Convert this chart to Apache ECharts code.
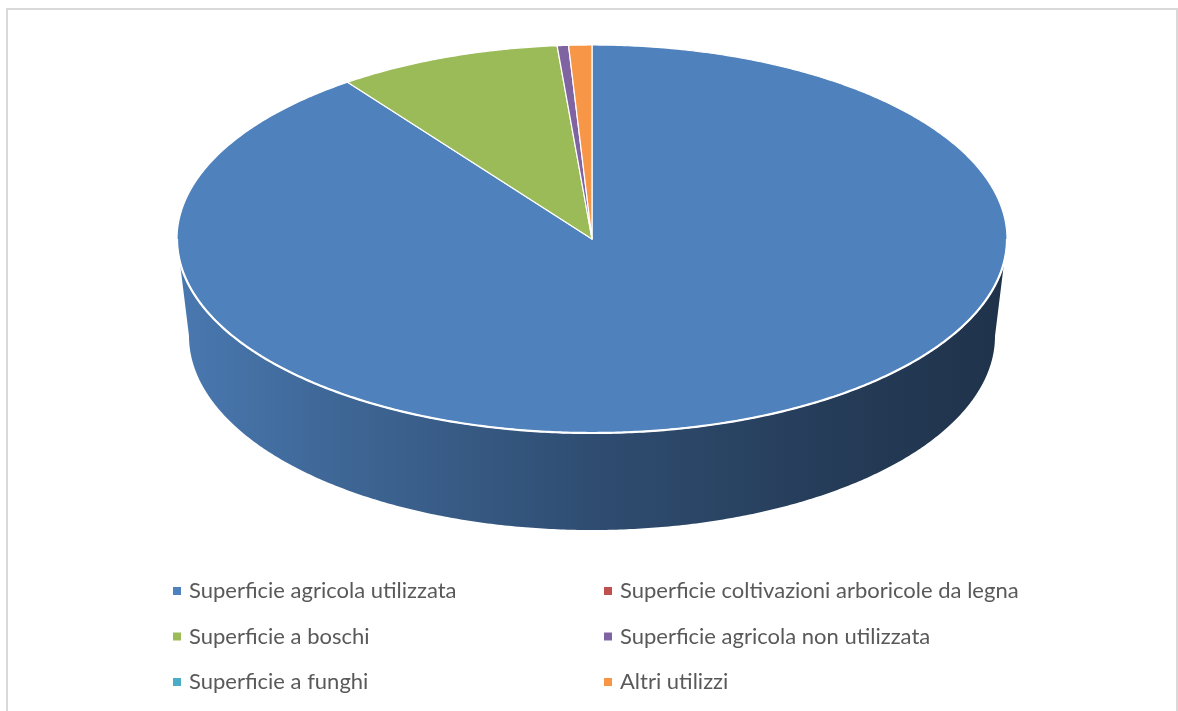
<!DOCTYPE html>
<html>
<head>
<meta charset="utf-8">
<script src="https://cdn.jsdelivr.net/npm/echarts@6/dist/echarts.min.js"></script>
<style>
html,body{margin:0;padding:0;background:#fff;}
#chart{width:1178px;height:711px;}
</style>
</head>
<body>
<div id="chart"></div>
<script>
// ---- data ----
const categories = [
  'Superficie agricola utilizzata',
  'Superficie coltivazioni arboricole da legna',
  'Superficie a boschi',
  'Superficie agricola non utilizzata',
  'Superficie a funghi',
  'Altri utilizzi'
];
const shares = [89.97, 0, 8.68, 0.44, 0, 0.90];
const palette = ['#4f81bd', '#c0504d', '#9bbb59', '#8064a2', '#4bacc6', '#f79646'];
const legendLeftColumn = [categories[0], categories[2], categories[4]];
const legendRightColumn = [categories[1], categories[3], categories[5]];

// ---- layout of the 3D pie ----
const geo = { cx: 592, cy: 239, rx: 415, ry: 194, cyB: 336, rxB: 403, ryB: 194 };
const sideShade = [[0, 0.93], [0.2, 0.79], [0.5, 0.60], [0.83, 0.45], [1, 0.39]];

function shade(hex, f) {
  const n = parseInt(hex.slice(1), 16);
  const r = Math.round(((n >> 16) & 255) * f);
  const g = Math.round(((n >> 8) & 255) * f);
  const b = Math.round((n & 255) * f);
  return 'rgb(' + r + ',' + g + ',' + b + ')';
}
function topPt(t) { return [geo.cx + geo.rx * Math.sin(t), geo.cy - geo.ry * Math.cos(t)]; }
function botPt(t) { return [geo.cx + geo.rxB * Math.sin(t), geo.cyB - geo.ryB * Math.cos(t)]; }
function arc(fn, a0, a1) {
  const pts = [];
  const n = Math.max(2, Math.ceil(Math.abs(a1 - a0) / (Math.PI / 360)));
  for (let i = 0; i <= n; i++) pts.push(fn(a0 + (a1 - a0) * i / n));
  return pts;
}

const total = shares.reduce((a, b) => a + b, 0);
const startAngles = [];
(function () { let acc = 0; shares.forEach(v => { startAngles.push(acc / total * Math.PI * 2); acc += v; }); })();

function renderItem(params, api) {
  const i = params.dataIndex;
  const v = api.value(0);
  if (!(v > 0)) return { type: 'group', children: [] };
  const a0 = startAngles[i];
  const a1 = a0 + v / total * Math.PI * 2;
  const color = palette[i];
  const children = [];
  // side face (front half: angles PI/2 .. 3PI/2)
  const s0 = Math.max(a0, Math.PI / 2), s1 = Math.min(a1, Math.PI * 1.5);
  if (s1 > s0) {
    const topArc = arc(topPt, s0, s1);
    const botArc = arc(botPt, s1, s0);
    const grad = new echarts.graphic.LinearGradient(
      geo.cx - geo.rx, 0, geo.cx + geo.rx, 0,
      sideShade.map(s => ({ offset: s[0], color: shade(color, s[1]) })), true);
    children.push({
      type: 'polygon', shape: { points: topArc.concat(botArc) },
      style: { fill: grad, stroke: null }
    });
  }
  // top face
  const pts = [[geo.cx, geo.cy]].concat(arc(topPt, a0, a1));
  children.push({
    type: 'polygon', shape: { points: pts },
    style: { fill: color, stroke: '#ffffff', lineWidth: 1.2, lineJoin: 'round' }
  });
  if (s1 > s0) {
    children.push({
      type: 'polyline', shape: { points: arc(topPt, s0, s1) },
      style: { stroke: '#ffffff', lineWidth: 2.2, fill: null }
    });
  }
  return { type: 'group', children: children };
}

const chart = echarts.init(document.getElementById('chart'), null, { renderer: 'canvas' });
const legendText = { fontSize: 22, color: '#595959', fontFamily: 'Lato', lineHeight: 22, padding: [0, 0, 0, 3] };
chart.setOption({
  animation: false,
  color: palette,
  graphic: [{
    type: 'rect', shape: { x: 7, y: 9, width: 1170, height: 720 },
    style: { fill: null, stroke: '#d9d9d9', lineWidth: 2 }, silent: true, z: -10
  }],
  legend: [
    {
      data: legendLeftColumn, orient: 'vertical', left: 173, top: 580, padding: 0,
      icon: 'rect', itemWidth: 8, itemHeight: 8, itemGap: 23.5,
      selectedMode: false, textStyle: legendText
    },
    {
      data: legendRightColumn, orient: 'vertical', left: 604, top: 580, padding: 0,
      icon: 'rect', itemWidth: 8, itemHeight: 8, itemGap: 23.5,
      selectedMode: false, textStyle: legendText
    }
  ],
  series: [
    {
      type: 'custom',
      coordinateSystem: 'none',
      renderItem: renderItem,
      data: shares.map((v, i) => ({ name: categories[i], value: [v] })),
      silent: true
    },
    {
      // legend provider only (kept off-canvas)
      type: 'pie', center: [-400, -400], radius: 5, silent: true,
      label: { show: false }, labelLine: { show: false },
      data: shares.map((v, i) => ({ name: categories[i], value: v }))
    }
  ]
});
</script>
</body>
</html>
